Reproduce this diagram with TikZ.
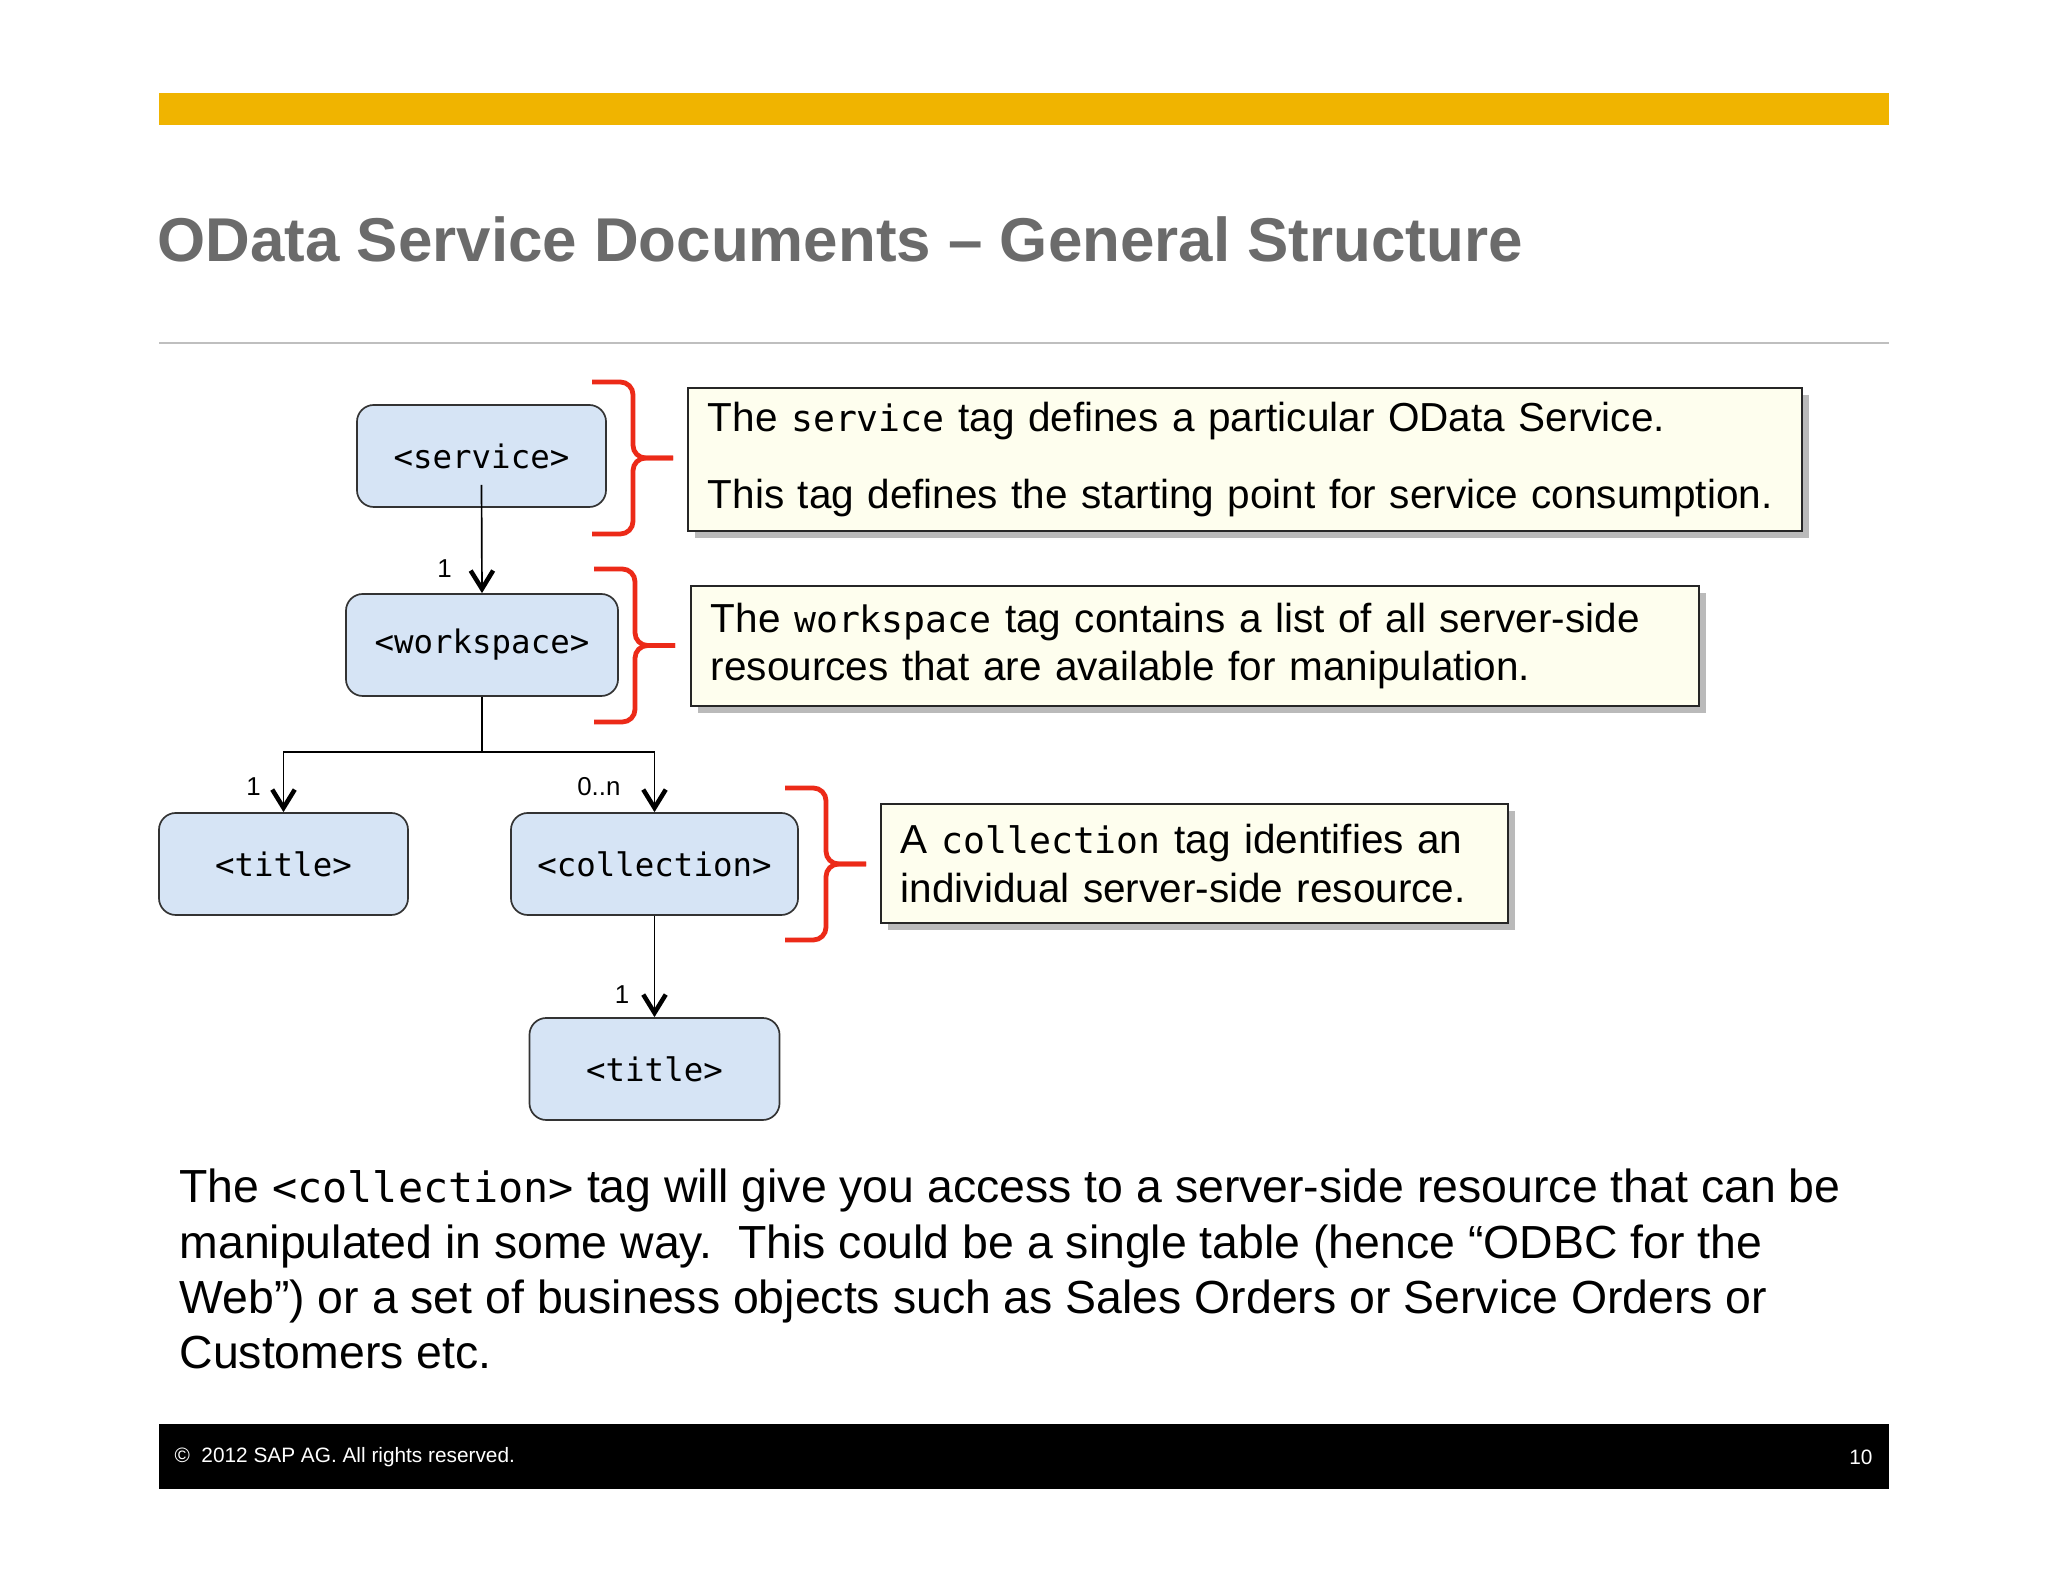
\documentclass[tikz,border=0pt]{standalone}
\usepackage{fontspec}
\setmainfont{Liberation Sans}
\setmonofont[Scale=0.9]{DejaVu Sans Mono}
\usetikzlibrary{arrows.meta, shadows}

\definecolor{sapgold}{RGB}{240,180,0}
\definecolor{tagblue}{RGB}{214,228,245}
\definecolor{notefill}{RGB}{254,254,238}
\definecolor{headgray}{RGB}{107,107,107}
\definecolor{bracered}{RGB}{236,42,24}

\newcommand{\redbrace}[3]{%
  \draw[brace] (#1, #2) -- ({#1+41}, #2) -- ({#1+41}, {(#2+#3)/2}) -- ({#1+81}, {(#2+#3)/2});
  \draw[brace] (#1, #3) -- ({#1+41}, #3) -- ({#1+41}, {(#2+#3)/2}) -- ({#1+81}, {(#2+#3)/2});}

\begin{document}
\begin{tikzpicture}[x=0.0125cm, y=-0.0125cm,
  tag/.style={draw=black!80, fill=tagblue, rounded corners=6pt, line width=0.6pt, minimum height=1.275cm, font=\fontsize{12.8}{15}\selectfont\ttfamily},
  note/.style={draw=black!85, fill=notefill, line width=0.6pt, anchor=north west, align=left, inner xsep=0.25cm, font=\fontsize{14.4}{17.2}\selectfont, drop shadow={shadow xshift=2.5pt, shadow yshift=-2.5pt, fill=black!45, opacity=0.6}},
  link/.style={line width=0.6pt, -{Straight Barb[length=6.5pt, width=8pt, line width=1.6pt]}},
  mult/.style={font=\fontsize{9.2}{10}\selectfont, inner sep=1pt},
  brace/.style={draw=bracered, line width=1.7pt, rounded corners=4.5pt}]
  \fill[white] (0, 0) rectangle (2048, 1582);
  \useasboundingbox (0, 0) rectangle (2048, 1582);

  \fill[sapgold] (159, 93) rectangle (1889, 125);
  \node[anchor=base west, inner sep=0, text=headgray, font=\fontsize{22}{26}\selectfont\bfseries] (heading) at (157, 262) {OData Service Documents \textendash{} General Structure};
  \draw[black!25, line width=0.7pt] (159, 343) -- (1889, 343);

  \node[tag, minimum width=3.1125cm] (service) at (481.5, 456) {<service>};
  \node[tag, minimum width=3.4cm] (workspace) at (482, 645) {<workspace>};
  \node[tag, minimum width=3.1125cm] (title) at (283.5, 864) {<title>};
  \node[tag, minimum width=3.5875cm] (collection) at (654.5, 864) {<collection>};
  \node[tag, minimum width=3.125cm] (colltitle) at (654.5, 1069) {<title>};

  \coordinate (split) at (482, 752);
  \draw[link] ([yshift=-0.36cm]service.center) -- (workspace.north) node[pos=0.77, left=0.33cm, mult] (m1) {1};
  \draw[line width=0.6pt] (workspace.south) -- (split);
  \draw[link] (split) -| (title.north) node[pos=0.79, left=0.24cm, mult] (m2) {1};
  \draw[link] (split) -| (collection.north) node[pos=0.79, left=0.38cm, mult] (m3) {0..n};
  \draw[link] (collection.south) -- (colltitle.north) node[pos=0.78, left=0.27cm, mult] (m4) {1};

  \redbrace{592}{382}{534}
  \redbrace{594}{569}{722}
  \redbrace{785}{788}{940}

  \node[note, minimum width=13.925cm, minimum height=1.7875cm, text width=13.425cm] (servicenote) at (687, 387) {The \texttt{service} tag defines a particular OData Service.\\[10pt] This tag defines the starting point for service consumption.};
  \node[note, minimum width=12.6cm, minimum height=1.5cm, text width=12.1cm] (workspacenote) at (690, 585) {The \texttt{workspace} tag contains a list of all server-side\\ resources that are available for manipulation.};
  \node[note, minimum width=7.8375cm, minimum height=1.4875cm, text width=7.3375cm] (collectionnote) at (880, 803) {A \texttt{collection} tag identifies an\\ individual server-side resource.};

  \node[anchor=base west, inner sep=0, align=left, font=\fontsize{16.5}{19.7}\selectfont] (body) at (179, 1369) {The \texttt{<collection>} tag will give you access to a server-side resource that can be\\ manipulated in some way.\ \ This could be a single table (hence “ODBC for the\\ Web”) or a set of business objects such as Sales Orders or Service Orders or\\ Customers etc.};

  \fill[black] (159, 1424) rectangle (1889, 1489);
  \node[anchor=west, inner sep=0, text=white, font=\fontsize{7.4}{9}\selectfont] (copyright) at (174, 1457) {\textcopyright\ \ 2012 SAP AG. All rights reserved.};
  \node[anchor=east, inner sep=0, text=white, font=\fontsize{7.4}{9}\selectfont] (pageno) at (1873, 1457) {10};
\end{tikzpicture}
\end{document}
